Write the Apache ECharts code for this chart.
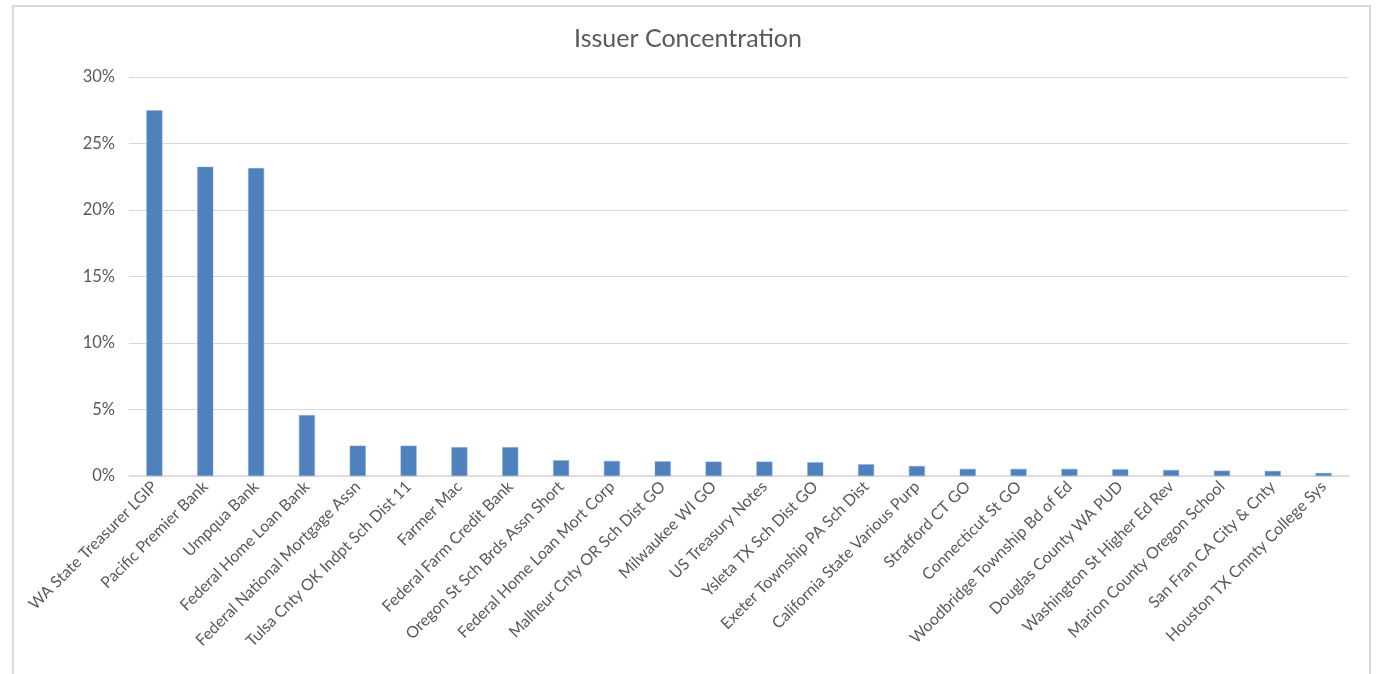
<!DOCTYPE html>
<html>
<head>
<meta charset="utf-8">
<script src="https://cdn.jsdelivr.net/npm/echarts@6/dist/echarts.min.js"></script>
<style>
html,body{margin:0;padding:0;background:#fff;}
#frame{position:absolute;left:12px;top:5px;width:1359px;height:700px;border:2px solid #d9d9d9;box-sizing:border-box;}
#chart{position:absolute;left:0;top:0;width:1376px;height:674px;}
</style>
</head>
<body>
<div id="frame"></div>
<div id="chart"></div>
<script>
const categories = [
  "WA State Treasurer LGIP","Pacific Premier Bank","Umpqua Bank","Federal Home Loan Bank",
  "Federal National Mortgage Assn","Tulsa Cnty OK Indpt Sch Dist 11","Farmer Mac","Federal Farm Credit Bank",
  "Oregon St Sch Brds Assn Short","Federal Home Loan Mort Corp","Malheur Cnty OR Sch Dist GO","Milwaukee WI GO",
  "US Treasury Notes","Ysleta TX Sch Dist GO","Exeter Township PA Sch Dist","California State Various Purp",
  "Stratford CT GO","Connecticut St GO","Woodbridge Township Bd of Ed","Douglas County WA PUD",
  "Washington St Higher Ed Rev","Marion County Oregon School","San Fran CA City & Cnty","Houston TX Cmnty College Sys"
];
const values = [
  27.5, 23.25, 23.15, 4.58,
  2.28, 2.28, 2.17, 2.17,
  1.18, 1.13, 1.10, 1.08,
  1.08, 1.03, 0.88, 0.75,
  0.53, 0.53, 0.53, 0.50,
  0.45, 0.40, 0.38, 0.23
];
const yTicks = [0, 5, 10, 15, 20, 25, 30];

const chart = echarts.init(document.getElementById('chart'));
chart.setOption({
  animation: false,
  title: {
    text: 'Issuer Concentration',
    left: 'center',
    top: 21,
    textStyle: {fontFamily: 'Lato', fontSize: 25, fontWeight: 'normal', color: '#595959'}
  },
  grid: {left: 129, right: 27, top: 77, bottom: 198, containLabel: false},
  xAxis: {
    type: 'category',
    data: categories,
    axisLine: {lineStyle: {color: '#d9d9d9', width: 1.5}},
    axisTick: {show: false},
    axisLabel: {
      rotate: 45, interval: 0, margin: 8,
      fontFamily: 'Lato', fontSize: 16, color: '#595959'
    }
  },
  yAxis: {
    type: 'value',
    min: yTicks[0], max: yTicks[yTicks.length - 1], interval: 5,
    axisLine: {show: false},
    axisTick: {show: false},
    splitLine: {lineStyle: {color: '#d9d9d9', width: 1.2}},
    axisLabel: {
      formatter: v => v + '%', margin: 14,
      fontFamily: 'Lato', fontSize: 16.5, color: '#595959'
    }
  },
  series: [{
    type: 'bar',
    data: values,
    barWidth: 16,
    itemStyle: {color: '#4f81bd', borderColor: '#7ea6d6', borderWidth: 0.5}
  }]
});
</script>
</body>
</html>
